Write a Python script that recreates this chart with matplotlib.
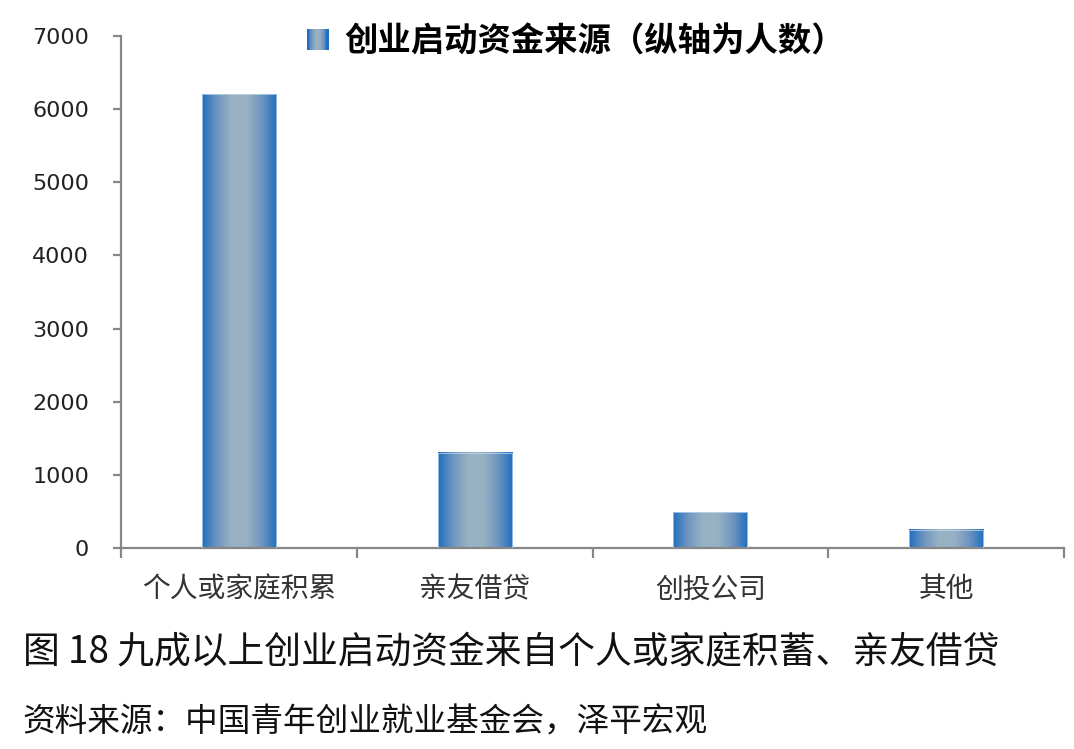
import numpy as np
import matplotlib
matplotlib.use("Agg")
import matplotlib.pyplot as plt
from matplotlib.colors import LinearSegmentedColormap
from matplotlib.legend_handler import HandlerBase
from matplotlib.patches import Rectangle

plt.rcParams['font.family'] = ['Noto Sans CJK SC', 'DejaVu Sans']

# data
categories = ["个人或家庭积累", "亲友借贷", "创投公司", "其他"]
counts = [6200, 1300, 490, 250]
series_name = "创业启动资金来源（纵轴为人数）"
yticks = [0, 1000, 2000, 3000, 4000, 5000, 6000, 7000]

edge_blue = "#1f6ec1"
mid_blue = "#98b2c4"
grad = LinearSegmentedColormap.from_list("bar_grad", [edge_blue, "#6f95bf", mid_blue, mid_blue, "#6f95bf", edge_blue])
spine_gray = "#878787"


class GradientHandler(HandlerBase):
    def create_artists(self, legend, orig_handle, xdescent, ydescent, width, height, fontsize, trans):
        n = 12
        side = height * 1.0
        x0 = xdescent + width - side
        arts = []
        for i in range(n):
            c = grad(i / (n - 1))
            r = Rectangle((x0 + side * i / n, -ydescent), side / n + 0.3, side,
                          facecolor=c, edgecolor="none", transform=trans)
            arts.append(r)
        return arts


fig = plt.figure(figsize=(10.74, 7.49), dpi=100)
ax = fig.add_axes([0.1127, 0.2684, 0.878, 0.6836])

x = np.arange(len(categories))
bars = ax.bar(x, counts, width=0.314, facecolor="none", edgecolor="#c3dbf0", linewidth=0.5, zorder=3)

# horizontal gradient fill inside each bar
g = np.linspace(0, 1, 256).reshape(1, -1)
for b in bars:
    ax.imshow(g, cmap=grad, aspect="auto", interpolation="bilinear",
              extent=[b.get_x(), b.get_x() + b.get_width(), 0, b.get_height()], zorder=2)

ax.set_xlim(-0.5, len(categories) - 0.5)
ax.set_ylim(0, 7000)

for s in ["top", "right"]:
    ax.spines[s].set_visible(False)
for s in ["left", "bottom"]:
    ax.spines[s].set_color(spine_gray)
    ax.spines[s].set_linewidth(1.6)

ax.set_yticks(yticks)
ax.tick_params(axis="y", direction="out", length=6, width=1.6, color=spine_gray,
               labelsize=16, labelcolor="#222222", pad=17)
for lab in ax.get_yticklabels():
    lab.set_fontfamily("DejaVu Sans")

ax.set_xticks(x)
ax.set_xticklabels(categories)
ax.set_xticks(np.arange(-0.5, len(categories)), minor=True)
ax.tick_params(axis="x", which="major", length=0, labelsize=20, labelcolor="#333333", pad=19)
ax.tick_params(axis="x", which="minor", direction="out", length=7, width=1.6, color=spine_gray)

handle = Rectangle((0, 0), 1, 1)
leg = fig.legend([handle], [series_name], handler_map={Rectangle: GradientHandler()},
                 loc="center", bbox_to_anchor=(0.537, 0.944), frameon=False,
                 handlelength=0.6, handleheight=0.6, handletextpad=0.5,
                 prop={"size": 24, "weight": "bold"})

fig.text(0.021, 0.129, "图 18 九成以上创业启动资金来自个人或家庭积蓄、亲友借贷",
         fontsize=26.5, va="center", ha="left", color="#111111")
fig.text(0.021, 0.036, "资料来源：中国青年创业就业基金会，泽平宏观",
         fontsize=23.5, va="center", ha="left", color="#111111")

fig.savefig("out.png", dpi=100)
